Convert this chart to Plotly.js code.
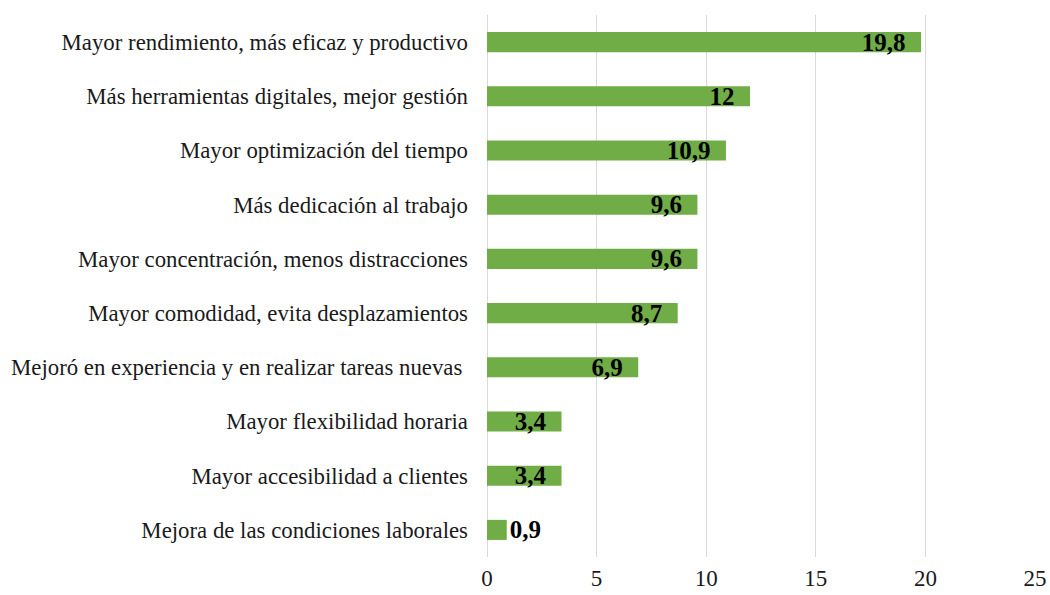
<!DOCTYPE html>
<html>
<head>
<meta charset="utf-8">
<script src="https://cdn.plot.ly/plotly-3.0.1.min.js"></script>
<style>html,body{margin:0;padding:0;background:#fff;}#chart{width:1050px;height:595px;}</style>
</head>
<body>
<div id="chart"></div>
<script>
const categories = [
  "Mayor rendimiento, más eficaz y productivo",
  "Más herramientas digitales, mejor gestión",
  "Mayor optimización del tiempo",
  "Más dedicación al trabajo",
  "Mayor concentración, menos distracciones",
  "Mayor comodidad, evita desplazamientos",
  "Mejoró en experiencia y en realizar tareas nuevas\u00a0",
  "Mayor flexibilidad horaria",
  "Mayor accesibilidad a clientes",
  "Mejora de las condiciones laborales"
];
const values = [19.8, 12, 10.9, 9.6, 9.6, 8.7, 6.9, 3.4, 3.4, 0.9];
const labels = values.map(v => String(v).replace('.', ','));
const xTicks = [0, 5, 10, 15, 20, 25];

const SERIF = '"Liberation Serif", "Times New Roman", serif';
const valFont = {family: SERIF, size: 25, color: '#000', weight: 'bold'};

const trace = {
  type: 'bar',
  orientation: 'h',
  y: categories,
  x: values,
  text: labels.map((t, i) => values[i] < 2 ? t : t + '\u00a0\u00a0'),
  textposition: values.map(v => v < 2 ? 'outside' : 'inside'),
  insidetextanchor: 'end',
  cliponaxis: false,
  constraintext: 'none',
  textfont: valFont,
  insidetextfont: valFont,
  outsidetextfont: valFont,
  marker: {color: '#70AD47'},
  hoverinfo: 'x+y'
};

const layout = {
  width: 1050,
  height: 595,
  margin: {l: 487, r: 15, t: 15, b: 38},
  paper_bgcolor: '#fff',
  plot_bgcolor: '#fff',
  showlegend: false,
  bargap: 0.63,
  font: {family: SERIF, color: '#1a1a1a'},
  xaxis: {
    range: [0, 25],
    tickvals: xTicks,
    ticktext: xTicks.map(String),
    showgrid: true,
    gridcolor: '#d9d9d9',
    gridwidth: 1,
    zeroline: true,
    zerolinecolor: '#d9d9d9',
    zerolinewidth: 1,
    showline: false,
    ticks: '',
    ticklabelstandoff: 5,
    tickfont: {family: SERIF, size: 23, color: '#1a1a1a'},
    fixedrange: true
  },
  yaxis: {
    type: 'category',
    autorange: 'reversed',
    showgrid: false,
    zeroline: false,
    showline: false,
    ticks: '',
    ticklabelstandoff: 18,
    tickfont: {family: SERIF, size: 22.8, color: '#1a1a1a'},
    fixedrange: true
  }
};

Plotly.newPlot('chart', [trace], layout, {displayModeBar: false, staticPlot: true});
</script>
</body>
</html>
